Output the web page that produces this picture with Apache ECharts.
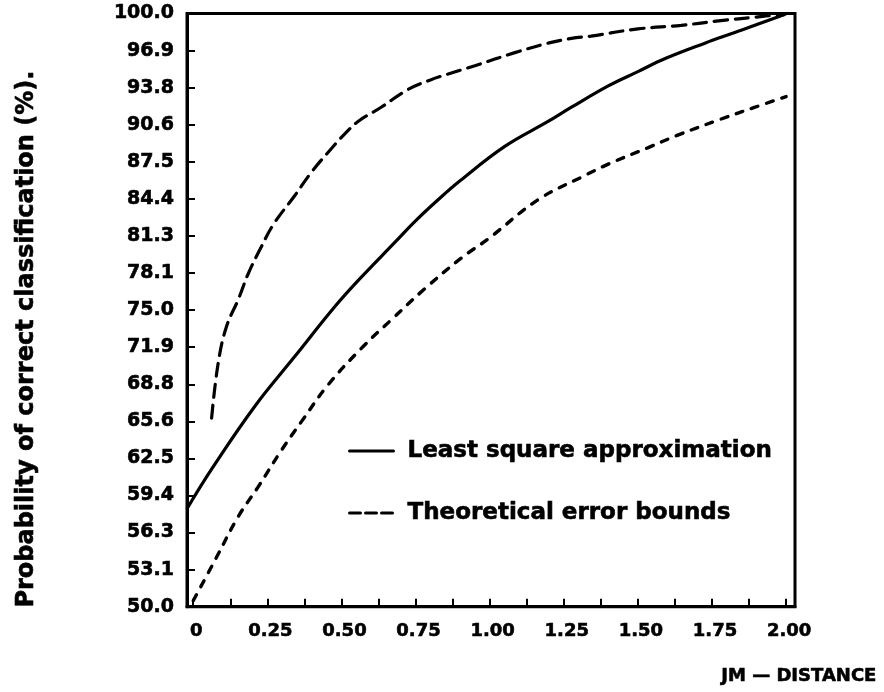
<!DOCTYPE html>
<html><head><meta charset="utf-8">
<script src="https://cdn.jsdelivr.net/npm/echarts@6/dist/echarts.min.js"></script>
<style>html,body{margin:0;padding:0;background:#fff}#c{width:884px;height:692px}</style>
</head><body><div id="c"></div>
<script>
// ---- data ----
const xLabelValues = [0, 0.25, 0.5, 0.75, 1, 1.25, 1.5, 1.75, 2];
const xLabelText = ['0', '0.25', '0.50', '0.75', '1.00', '1.25', '1.50', '1.75', '2.00'];
const xTickValues = [0, 0.125, 0.25, 0.375, 0.5, 0.625, 0.75, 0.875, 1, 1.125, 1.25, 1.375, 1.5, 1.625, 1.75, 1.875, 2];
const yTickLabels = ['50.0', '53.1', '56.3', '59.4', '62.5', '65.6', '68.8', '71.9', '75.0', '78.1', '81.3', '84.4', '87.5', '90.6', '93.8', '96.9', '100.0'];

const lsqX = [-0.02, 0.062, 0.208, 0.343, 0.478, 0.568, 0.68, 0.749, 0.826, 0.9, 1.051, 1.197, 1.276, 1.4, 1.5, 1.592, 1.726, 1.827, 1.983, 2.0];
const lsqY = [58.3, 61.6, 66.9, 71.1, 75.3, 77.8, 80.7, 82.5, 84.3, 85.9, 88.8, 90.9, 92.1, 93.9, 95.1, 96.2, 97.5, 98.4, 99.8, 100.0];

const upperX = [0.062, 0.084, 0.112, 0.152, 0.186, 0.225, 0.27, 0.344, 0.398, 0.462, 0.513, 0.556, 0.634, 0.725, 0.8, 0.86, 0.95, 1.085, 1.197, 1.276, 1.342, 1.5, 1.646, 1.78, 1.9, 2.0];
const upperY = [65.9, 70.5, 73.6, 75.9, 78.1, 80.1, 82.2, 84.7, 86.6, 88.5, 89.9, 90.9, 92.1, 93.6, 94.4, 94.9, 95.6, 96.7, 97.5, 97.9, 98.1, 98.7, 99.0, 99.4, 99.7, 100.0];

const lowerX = [0.0, 0.073, 0.152, 0.219, 0.298, 0.365, 0.455, 0.568, 0.669, 0.781, 0.905, 0.995, 1.163, 1.309, 1.4, 1.535, 1.63, 1.78, 1.895, 2.0];
const lowerY = [50.5, 53.9, 57.6, 60.1, 63.2, 65.6, 68.7, 71.8, 74.2, 76.8, 79.4, 81.0, 84.3, 86.2, 87.3, 88.7, 89.7, 91.1, 92.1, 93.0];

const seriesNames = ['Least square approximation', 'Theoretical error bounds'];
const yAxisTitle = 'Probability of correct classification (%).';
const xAxisTitle = 'JM \u2014 DISTANCE';

function zip(a, b) { return a.map((v, i) => [v, b[i]]); }

const FONT = '"DejaVu Sans", sans-serif';
const INK = { color: '#000', fontWeight: 'bold', fontFamily: FONT, textBorderColor: '#000', textBorderWidth: 0.6 };
const chart = echarts.init(document.getElementById('c'), null, { renderer: 'canvas' });
chart.setOption({
  animation: false,
  backgroundColor: '#fff',
  title: {
    text: xAxisTitle, right: 7, top: 667, padding: 0,
    textStyle: Object.assign({ fontSize: 18 }, INK)
  },
  grid: {
    left: 187, right: 89, top: 13.5, bottom: 85.3,
    show: true, borderColor: '#000', borderWidth: 3, backgroundColor: 'transparent'
  },
  legend: {
    orient: 'vertical', left: 343, top: 433, itemGap: 36,
    itemWidth: 44, itemHeight: 14,
    itemStyle: { color: 'rgba(0,0,0,0)', borderWidth: 0, opacity: 0 },
    lineStyle: { width: 3, color: '#000' },
    textStyle: Object.assign({ fontSize: 23, lineHeight: 26, padding: [0, 0, 0, 9] }, INK),
    data: [
      { name: seriesNames[0] },
      { name: seriesNames[1], lineStyle: { type: [11, 5], width: 3 } }
    ]
  },
  xAxis: {
    type: 'value', min: -0.021, max: 2.03,
    axisLine: { show: true, onZero: false, lineStyle: { color: '#000', width: 3 } },
    axisTick: { show: true, inside: true, length: 8, customValues: xTickValues, lineStyle: { color: '#000', width: 2 } },
    axisLabel: Object.assign({
      customValues: xLabelValues, margin: 16, padding: [0, 0, 0, 6], fontSize: 18,
      formatter: function (v) {
        const i = xLabelValues.findIndex(t => Math.abs(t - v) < 1e-6);
        return i >= 0 ? xLabelText[i] : '';
      }
    }, INK),
    splitLine: { show: false }
  },
  yAxis: {
    type: 'value', min: 50, max: 100, interval: 3.125,
    name: yAxisTitle, nameLocation: 'middle', nameRotate: 90, nameGap: 148,
    nameTextStyle: Object.assign({ fontSize: 24, padding: [0, 58, 0, 0] }, INK),
    axisLine: { show: true, onZero: false, lineStyle: { color: '#000', width: 3 } },
    axisTick: { show: true, inside: true, length: 8, lineStyle: { color: '#000', width: 2 } },
    axisLabel: Object.assign({
      margin: 13, fontSize: 19,
      formatter: function (v) {
        const i = Math.round((v - 50) / 3.125);
        return yTickLabels[i] !== undefined ? yTickLabels[i] : '';
      }
    }, INK),
    splitLine: { show: false }
  },
  series: [
    {
      name: seriesNames[0], type: 'line', data: zip(lsqX, lsqY),
      symbol: 'none', smooth: 0.4,
      lineStyle: { color: '#000', width: 3.2, cap: 'round' }, itemStyle: { color: '#000' }
    },
    {
      name: seriesNames[1], type: 'line', data: zip(upperX, upperY),
      symbol: 'none', smooth: 0.4,
      lineStyle: { color: '#000', width: 3.2, type: [13, 8], cap: 'round' }, itemStyle: { color: '#000' }
    },
    {
      name: seriesNames[1], type: 'line', data: zip(lowerX, lowerY),
      symbol: 'none', smooth: 0.4,
      lineStyle: { color: '#000', width: 3.4, type: [7, 9], cap: 'round' }, itemStyle: { color: '#000' }
    }
  ]
});
</script></body></html>
